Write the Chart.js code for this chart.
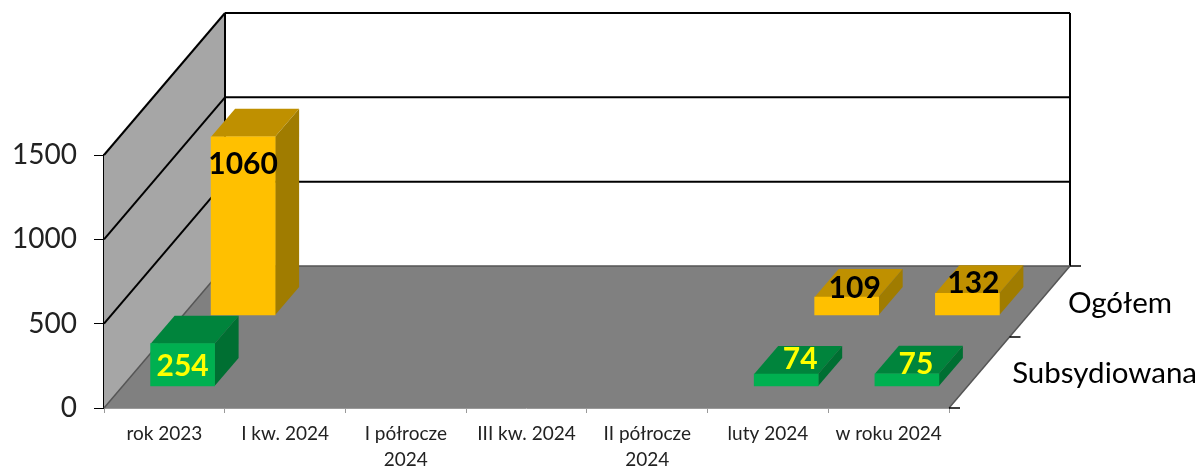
<!DOCTYPE html>
<html>
<head>
<meta charset="utf-8">
<style>
  html, body { margin: 0; padding: 0; background: #fff; }
  canvas { display: block; }
</style>
<script src="https://cdn.jsdelivr.net/npm/chart.js@4"></script>
</head>
<body>
<canvas id="chart" width="1199" height="468"></canvas>
<script>
const categories = ['rok 2023', 'I kw. 2024', ['I półrocze', '2024'], 'III kw. 2024', ['II półrocze', '2024'], 'luty 2024', 'w roku 2024'];
const seriesNames = ['Subsydiowana', 'Ogółem'];
const subsydiowana = [254, null, null, null, null, 74, 75];
const ogolem = [1060, null, null, null, null, 109, 132];
const yTicks = [0, 500, 1000, 1500];

// depth of the floor and of one bar, in pixels
const DEPTH_X = 121, DEPTH_Y = 142;
const BAR_DX = 24, BAR_DY = 28;
const FONT = 'Lato, "Open Sans", sans-serif';

// colours per dataset: front, top, side, label
const faces = [
  {front: '#00B050', top: '#00843C', side: '#006F32', text: '#FFFF00'},
  {front: '#FFC000', top: '#BF9000', side: '#A07C00', text: '#000000'}
];

// label shift from the middle of the front face, per dataset and category
const labelShift = [
  {0: [0, 1], 5: [14, -21], 6: [9, -16]},
  {0: [0, -62], 5: [8, -18], 6: [6, -21]}
];

function rowShift(i){
  const rowX = DEPTH_X / 2, rowY = DEPTH_Y / 2;
  return {
    x: rowX * i + (rowX - BAR_DX) / 2,
    y: -(rowY * i + (rowY - BAR_DY) / 2)
  };
}

function poly(ctx, pts, fill, stroke){
  ctx.beginPath();
  pts.forEach((p, i) => i ? ctx.lineTo(p[0], p[1]) : ctx.moveTo(p[0], p[1]));
  ctx.closePath();
  if(fill){ ctx.fillStyle = fill; ctx.fill(); }
  if(stroke){ ctx.strokeStyle = stroke; ctx.stroke(); }
}

function line(ctx, x1, y1, x2, y2, color, width){
  ctx.beginPath();
  ctx.moveTo(x1, y1);
  ctx.lineTo(x2, y2);
  ctx.strokeStyle = color;
  ctx.lineWidth = width;
  ctx.stroke();
}

const bars3d = {
  id: 'bars3d',
  beforeDatasetsDraw(chart){
    const {ctx, chartArea: a, scales: {y}} = chart;
    const top = y.getPixelForValue(1500), zero = y.getPixelForValue(0);
    ctx.save();
    // walls and floor
    poly(ctx, [[a.left, top], [a.left + DEPTH_X, top - DEPTH_Y], [a.left + DEPTH_X, zero - DEPTH_Y], [a.left, zero]], '#A6A6A6');
    poly(ctx, [[a.left, zero], [a.right, zero], [a.right + DEPTH_X, zero - DEPTH_Y], [a.left + DEPTH_X, zero - DEPTH_Y]], '#808080');
    line(ctx, a.left, zero + 0.5, a.right, zero + 0.5, '#9a9a9a', 1);
    yTicks.forEach(v => {
      const py = y.getPixelForValue(v);
      line(ctx, a.left, py, a.left + DEPTH_X, py - DEPTH_Y, v ? '#000' : '#555', v ? 2 : 1.5);
      if(v) line(ctx, a.left + DEPTH_X, py - DEPTH_Y, a.right + DEPTH_X, py - DEPTH_Y, '#000', 2);
    });
    line(ctx, a.left + DEPTH_X, top - DEPTH_Y, a.left + DEPTH_X, zero - DEPTH_Y, '#000', 2);
    line(ctx, a.right + DEPTH_X, top - DEPTH_Y, a.right + DEPTH_X, zero - DEPTH_Y, '#000', 2);
    line(ctx, a.left + DEPTH_X, zero - DEPTH_Y, a.right + DEPTH_X, zero - DEPTH_Y, '#555', 1.5);
    line(ctx, a.right, zero, a.right + DEPTH_X, zero - DEPTH_Y, '#555', 1.5);
    // series axis on the right
    [0, 0.5, 1].forEach(t => {
      const tx = a.right + DEPTH_X * t, ty = zero - DEPTH_Y * t;
      line(ctx, tx, ty, tx + 11, ty, '#000', 1.5);
    });
    ctx.font = '29.5px ' + FONT;
    ctx.fillStyle = '#000';
    ctx.textBaseline = 'middle';
    ctx.textAlign = 'right';
    ctx.fillText(seriesNames[0], 1197, 373);
    ctx.fillText(seriesNames[1], 1172, 303);
    ctx.restore();
  },
  beforeDatasetDraw(chart, args){
    const {ctx} = chart;
    const s = rowShift(args.index), c = faces[args.index];
    ctx.save();
    ctx.translate(s.x, s.y);
    args.meta.data.forEach((bar, i) => {
      if(chart.data.datasets[args.index].data[i] == null) return;
      const {x, y, base, width} = bar.getProps(['x', 'y', 'base', 'width'], true);
      const l = x - width / 2, r = x + width / 2;
      poly(ctx, [[l, y], [r, y], [r + BAR_DX, y - BAR_DY], [l + BAR_DX, y - BAR_DY]], c.top);
      poly(ctx, [[r, y], [r + BAR_DX, y - BAR_DY], [r + BAR_DX, base - BAR_DY], [r, base]], c.side);
    });
  },
  afterDatasetDraw(chart){
    chart.ctx.restore();
  },
  afterDatasetsDraw(chart){
    const {ctx} = chart;
    ctx.save();
    ctx.font = 'bold 30px ' + FONT;
    ctx.textAlign = 'center';
    ctx.textBaseline = 'middle';
    chart.data.datasets.forEach((ds, d) => {
      const s = rowShift(d);
      chart.getDatasetMeta(d).data.forEach((bar, i) => {
        if(ds.data[i] == null) return;
        const {x, y, base} = bar.getProps(['x', 'y', 'base'], true);
        const n = labelShift[d][i];
        ctx.fillStyle = faces[d].text;
        ctx.fillText(ds.data[i], x + s.x + n[0], (y + base) / 2 + s.y + n[1]);
      });
    });
    ctx.restore();
  }
};

new Chart(document.getElementById('chart'), {
  type: 'bar',
  plugins: [bars3d],
  data: {
    labels: categories,
    datasets: [
      {label: seriesNames[0], data: subsydiowana, backgroundColor: faces[0].front, barThickness: 64, grouped: false, clip: false},
      {label: seriesNames[1], data: ogolem, backgroundColor: faces[1].front, barThickness: 64, grouped: false, clip: false}
    ]
  },
  options: {
    responsive: false,
    animation: false,
    devicePixelRatio: 1,
    layout: {padding: {top: 155, right: 250, left: 0, bottom: 0}},
    plugins: {legend: {display: false}, tooltip: {enabled: false}},
    scales: {
      x: {
        afterFit(s){ s.height = 60; },
        grid: {drawOnChartArea: false, drawTicks: true, tickLength: 5, color: '#999', offset: true},
        border: {display: false},
        ticks: {color: '#222', maxRotation: 0, autoSkip: false, padding: 8, font: {family: FONT, size: 19, lineHeight: 1.38}}
      },
      y: {
        min: 0,
        max: 1500,
        afterFit(s){ s.width = 104; },
        grid: {drawOnChartArea: false, drawTicks: true, tickLength: 10, color: '#000'},
        border: {display: true, color: '#000', width: 2},
        ticks: {stepSize: 500, color: '#222', padding: 17, font: {family: FONT, size: 28}, callback: v => String(v)}
      }
    }
  }
});
</script>
</body>
</html>
